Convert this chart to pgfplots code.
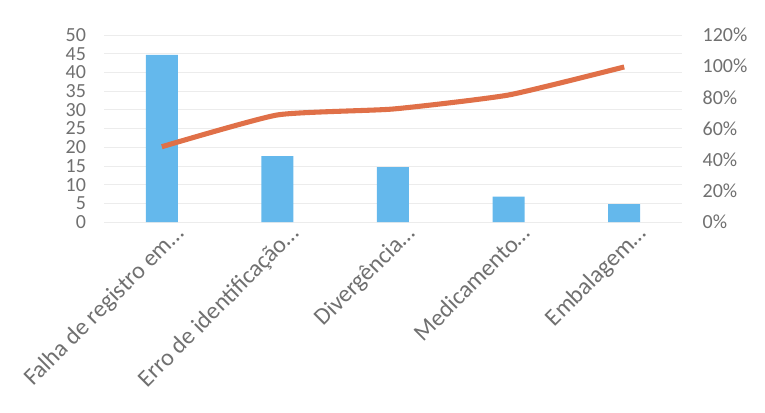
\documentclass[border=0pt]{standalone}
\usepackage{pgfplots}
\pgfplotsset{compat=1.18}
\usepackage{fontspec}
\setmainfont{Carlito}
\definecolor{barblue}{RGB}{100,184,236}
\definecolor{lineorange}{RGB}{224,112,72}
\definecolor{txtgray}{RGB}{112,112,112}
\definecolor{gridgray}{RGB}{236,236,236}
\begin{document}
\begin{tikzpicture}
\begin{axis}[
  at={(78pt,142.5pt)}, anchor=south west,
  scale only axis, width=433.5pt, height=140.25pt,
  xmin=-0.5, xmax=4.5, ymin=0, ymax=50,
  xtick={0,1,2,3,4},
  xticklabels={Falha de registro em…, Erro de identificação…, Divergência…, Medicamento…, Embalagem…},
  x tick label style={rotate=45, anchor=north east, font=\fontsize{18}{18}\selectfont, text=txtgray, xshift=9pt, yshift=-3pt},
  ytick={0,5,...,50},
  y tick label style={font=\fontsize{15}{15}\selectfont, text=txtgray},
  yticklabel style={xshift=-10pt},
  /pgf/number format/assume math mode=true,
  axis line style={draw=none},
  tick style={draw=none},
  ymajorgrids, major grid style={gridgray, line width=0.6pt},
  axis y line*=left,
]
\addplot[ybar, bar width=24pt, fill=barblue, draw=none] coordinates {(0,44.7) (1,17.6) (2,14.7) (3,6.8) (4,4.8)};
\end{axis}
\begin{axis}[
  at={(78pt,142.5pt)}, anchor=south west,
  scale only axis, width=433.5pt, height=140.25pt,
  xmin=-0.5, xmax=4.5, ymin=0, ymax=120,
  axis x line=none,
  axis y line*=right,
  ytick={0,20,...,120},
  yticklabels={0\%,20\%,40\%,60\%,80\%,100\%,120\%},
  y tick label style={font=\fontsize{15}{15}\selectfont, text=txtgray, anchor=west, xshift=12pt},
  axis line style={draw=none},
  tick style={draw=none},
]
\addplot[lineorange, line width=3.8pt, smooth, tension=0.3] coordinates {(0,48.3) (1,68.7) (2,72.5) (3,81.5) (4,99.5)};
\end{axis}
\pgfresetboundingbox
\path (0,0) rectangle (573.75pt,309pt);
\end{tikzpicture}
\end{document}
